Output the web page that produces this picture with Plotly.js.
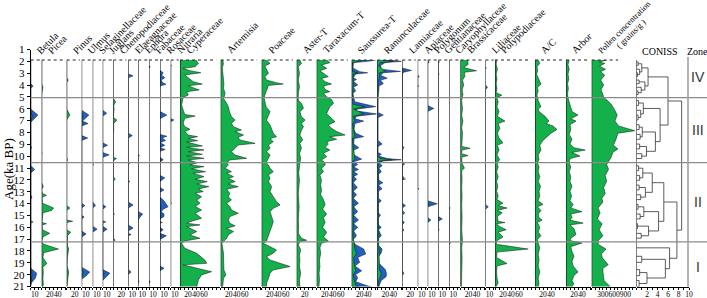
<!DOCTYPE html>
<html><head><meta charset="utf-8">
<script src="https://cdn.plot.ly/plotly-3.0.1.min.js"></script>
<style>html,body{margin:0;padding:0;background:#fff}#chart{width:707px;height:298px}</style>
</head><body><div id="chart"></div>
<script>
// ---------------- DATA ([age ka BP, value]) ----------------
const betulaG = [[6.2,0],[6.6,4],[6.9,0],[9.0,0],[9.2,2],[9.4,0],[15.25,0],[15.35,6],[15.45,0],[19.4,0],[19.7,3],[20.1,2],[20.5,0]];
const betulaB = [[3.9,0],[4.1,6],[4.3,0],[6.0,0],[6.5,18],[6.9,5],[7.1,0],[10.7,0],[11.0,10],[11.3,0],[13.1,0],[13.3,3],[13.5,0],[19.2,0],[19.6,15],[20.0,12],[20.4,2],[20.6,0]];
const piceaG = [[1.94,0],[3.9,0],[4.2,3],[4.5,2],[4.8,0],[9.5,0],[9.6,1],[9.8,0],[12.1,0],[12.4,4],[12.7,0],[13.0,2],[13.15,12],[13.3,1],[13.8,2],[14.2,30],[14.4,25],[14.6,3],[15.0,2],[15.4,1],[15.5,12],[15.6,1],[16.0,2],[16.3,20],[16.6,3],[17.0,0],[17.2,5],[17.6,42],[17.9,5],[18.3,3],[18.8,13],[19.1,3],[19.5,4],[20.0,3],[20.5,4],[21,2]];
const pinusG = [[1.94,0],[3.4,0],[3.6,4],[3.8,0],[6.0,0],[6.5,8],[6.9,0],[10,0],[10.2,2],[10.4,0],[14.0,0],[14.2,8],[14.4,0],[15.2,0],[15.3,15],[15.4,0],[16.0,0],[16.2,10],[16.5,2],[17.3,2],[17.6,5],[18.2,2],[19.0,1],[19.5,5],[20,3],[20.5,1],[21,0]];
const ulmusG = [[6.3,0],[6.5,3],[6.8,0],[7.1,0],[7.2,3],[7.4,0],[19.3,0],[19.5,4],[19.9,0]];
const ulmusB = [[6.1,0],[6.5,18],[6.8,8],[7.0,2],[7.2,16],[7.4,0],[8.2,0],[8.4,15],[8.6,0],[13.8,0],[14.0,8],[14.2,0],[14.8,0],[14.95,6],[15.1,0],[16.1,0],[16.35,11],[16.6,0],[19.1,0],[19.5,20],[19.8,12],[20.1,0]];
const selagG = [[10.5,0],[10.6,2],[10.7,0]];
const selagB = [[13.7,0],[14.0,7],[14.2,0],[15.7,0],[15.95,11],[16.2,0]];
const juglansG = [[15.25,0],[15.35,8],[15.45,0],[19.5,0],[19.6,3],[19.8,0]];
const juglansB = [[6.1,0],[6.35,10],[6.6,0],[8.8,0],[9.0,12],[9.2,0],[9.6,0],[9.8,16],[10.0,0],[13.9,0],[14.1,8],[14.3,0],[15.7,0],[15.95,11],[16.2,0],[19.3,0],[19.6,18],[20.0,5],[20.2,0]];
const chenoG = [[5.1,0],[5.4,6],[5.7,1],[6.0,2],[6.4,1],[6.7,0],[6.9,9],[7.2,1],[7.8,1],[8.0,0],[10.0,0],[10.1,8],[10.3,0],[11.6,0],[11.8,5],[12.0,0],[14.6,0],[14.7,3],[14.8,0],[16.7,0],[16.85,5],[17.0,0]];
const elaeagG = [[10.4,0],[10.5,3],[10.6,0]];
const elaeagB = [[3.1,0],[3.25,12],[3.4,0],[8.0,0],[8.2,10],[8.4,0],[11.9,0],[12.0,4],[12.1,0],[13.7,0],[13.95,12],[14.2,0],[15.6,0],[15.85,12],[16.1,0],[16.3,0],[16.4,7],[16.5,0],[19.3,0],[19.5,7],[19.7,0]];
const ephedraG = [[9.75,0],[9.85,3],[9.95,0],[20.2,0],[20.3,2],[20.4,0]];
const ephedraB = [[14.5,0],[14.7,11],[15.0,3],[15.2,0]];
const fabaceaeG = [[20.2,0],[20.3,3],[20.45,0]];
const fabaceaeB = [[2.4,0],[2.5,3],[2.6,0]];
const rosaceaeG = [[14.0,0],[14.1,3],[14.2,0],[15.35,0],[15.4,6],[15.45,0],[16.4,0],[16.5,3],[16.6,0]];
const rosaceaeB = [[2.8,0],[3.0,8],[3.2,4],[3.4,12],[3.6,3],[3.8,6],[3.95,15],[4.1,0],[6.2,0],[6.5,17],[6.8,0],[8.1,0],[8.25,17],[8.4,5],[8.6,14],[8.8,0],[9.0,12],[9.2,0],[9.35,13],[9.5,0],[10.0,0],[10.2,8],[10.4,0],[11.5,0],[11.7,12],[11.9,5],[12.0,0],[12.5,0],[12.7,10],[12.9,0],[13.3,0],[13.6,10],[13.9,16],[14.1,20],[14.3,8],[14.5,3],[14.7,10],[14.9,10],[15.1,0],[15.8,0],[16.0,8],[16.2,0],[16.3,0],[16.5,16],[16.8,0],[19.0,0],[19.2,10],[19.4,0]];
const nitrariaG = [[2.3,0],[2.4,2],[2.5,0],[13.7,0],[13.8,2],[13.9,0]];
const nitrariaB = [[6.8,0],[6.9,8],[7.05,0]];
const cyperaceae = [[1.94,40],[2.22,46],[2.49,38],[2.63,8],[2.82,25],[2.99,52],[3.18,12],[3.54,25],[3.73,33],[3.93,56],[4.07,21],[4.23,33],[4.42,48],[4.56,17],[4.84,21],[5.03,8],[5.25,7],[5.67,4],[6.08,8],[6.45,12],[6.58,38],[6.77,12],[7.18,8],[7.46,12],[7.68,25],[7.87,12],[8.15,21],[8.29,44],[8.43,21],[8.62,44],[8.73,17],[9.06,56],[9.17,17],[9.39,60],[9.53,21],[9.75,56],[9.89,17],[10.08,60],[10.22,21],[10.44,44],[10.63,25],[10.77,60],[10.94,29],[11.19,64],[11.32,33],[11.6,60],[11.82,38],[12.01,68],[12.21,42],[12.43,72],[12.62,46],[12.84,58],[12.98,38],[13.26,54],[13.53,42],[13.81,50],[14.08,38],[14.36,54],[14.64,38],[15.05,54],[15.33,25],[15.46,17],[15.6,50],[15.74,17],[16.15,42],[16.43,25],[16.71,50],[16.93,12],[17.12,4],[17.53,12],[17.95,42],[18.5,62],[18.78,67],[18.91,8],[19.05,25],[19.47,79],[19.74,54],[20.16,46],[20.71,42],[21,42]];
const artemisia = [[1.94,5],[2.22,7],[2.6,4],[3.04,5],[3.5,6],[3.87,8],[4.3,7],[4.7,11],[4.95,9],[5.11,7],[5.53,15],[5.8,19],[6.22,22],[6.63,27],[6.91,36],[7.18,27],[7.46,32],[7.74,52],[7.87,36],[8.15,57],[8.34,44],[8.56,48],[8.84,86],[8.98,44],[9.25,36],[9.53,27],[9.81,36],[10.08,65],[10.22,23],[10.44,15],[10.63,19],[10.91,11],[11.19,27],[11.32,15],[11.6,32],[11.74,19],[12.01,36],[12.21,19],[12.43,44],[12.65,15],[12.98,23],[13.26,19],[13.53,27],[13.81,15],[14.08,23],[14.36,27],[14.64,44],[14.91,23],[15.19,19],[15.46,23],[15.68,36],[15.88,15],[16.15,32],[16.43,19],[16.71,15],[16.93,7],[17.12,3],[17.95,7],[18.78,7],[19.33,8],[19.74,13],[20.02,7],[20.71,5],[21,5]];
const poaceae = [[1.94,12],[2.22,21],[2.44,8],[2.77,12],[3.04,17],[3.32,8],[3.6,12],[3.82,37],[3.93,54],[4.04,17],[4.42,12],[4.84,8],[5.06,6],[5.39,8],[5.8,11],[6.22,21],[6.49,17],[6.91,12],[7.32,21],[7.74,25],[8.01,29],[8.29,37],[8.45,21],[8.7,29],[8.98,17],[9.25,21],[9.53,12],[9.81,21],[10.08,17],[10.44,11],[10.63,17],[10.91,21],[11.19,29],[11.46,17],[11.74,21],[12.01,17],[12.43,25],[12.84,21],[13.26,29],[13.67,37],[13.95,46],[14.22,29],[14.5,21],[14.91,25],[15.33,29],[15.74,25],[16.15,21],[16.57,17],[16.93,12],[17.12,4],[17.4,21],[17.67,37],[17.95,29],[18.23,12],[18.5,21],[18.78,46],[19.05,71],[19.33,29],[19.6,21],[20.02,17],[20.43,12],[20.85,12],[21,12]];
const asterT = [[1.94,8],[2.22,12],[2.49,4],[3.04,7],[3.6,4],[4.15,7],[4.7,4],[5.06,4],[5.25,4],[5.53,12],[5.94,17],[6.22,8],[6.63,12],[6.91,21],[7.18,12],[7.46,17],[7.74,12],[8.15,8],[8.56,15],[8.84,8],[9.25,12],[9.67,7],[10.08,10],[10.44,8],[10.77,7],[11.32,5],[11.9,7],[12.43,5],[12.98,4],[13.53,5],[14.08,6],[14.64,5],[15.19,4],[15.74,5],[16.3,4],[16.71,12],[16.87,25],[16.97,8],[17.25,4],[17.67,10],[18.09,7],[18.5,8],[19.05,7],[19.6,10],[20.16,7],[20.71,8],[21,8]];
const taraxacumT = [[1.94,25],[2.16,33],[2.35,12],[2.63,25],[2.82,8],[3.04,17],[3.32,29],[3.46,12],[3.73,21],[3.93,37],[4.09,17],[4.37,21],[4.56,33],[4.7,17],[4.98,25],[5.2,37],[5.53,42],[5.8,33],[6.08,29],[6.36,25],[6.77,37],[7.05,46],[7.32,29],[7.6,37],[7.87,50],[8.15,71],[8.29,33],[8.51,50],[8.7,25],[8.9,29],[9.17,21],[9.39,33],[9.67,17],[9.94,25],[10.22,12],[10.44,21],[10.63,21],[10.91,12],[11.19,17],[11.46,8],[11.9,12],[12.3,10],[12.7,12],[13.1,10],[13.5,17],[13.9,21],[14.3,15],[14.7,25],[15.0,17],[15.4,21],[15.8,15],[16.2,25],[16.6,17],[16.93,29],[17.12,12],[17.5,8],[17.95,10],[18.5,7],[19.05,8],[19.6,6],[20.16,7],[20.71,5],[21,5]];
const saussureaG = [[1.94,28],[2.05,10],[2.15,2],[2.9,2],[3.0,15],[3.1,3],[4.0,4],[5.06,2],[5.6,3],[5.8,33],[6.0,5],[6.4,30],[6.6,4],[7.0,8],[7.2,2],[8.29,8],[8.45,2],[9.2,4],[10.15,8],[10.35,2],[11.0,4],[12.0,2],[13.8,4],[14.5,3],[15.2,4],[16.5,3],[17.6,8],[18.0,12],[18.3,5],[18.7,6],[19.4,10],[19.7,4],[20.0,5],[20.6,10],[20.85,25],[21,12]];
const saussureaB = [[1.94,60],[2.05,40],[2.15,5],[2.6,3],[2.9,20],[3.0,40],[3.1,10],[3.4,4],[3.55,12],[3.7,4],[4.0,15],[4.2,4],[4.5,10],[4.7,3],[5.06,5],[5.4,8],[5.8,60],[6.0,15],[6.15,10],[6.4,62],[6.6,12],[6.8,8],[7.0,30],[7.2,8],[7.7,6],[8.0,10],[8.29,30],[8.45,6],[8.9,5],[9.2,18],[9.4,5],[9.8,6],[10.15,25],[10.35,6],[10.6,15],[10.8,5],[11.0,17],[11.2,5],[11.4,15],[11.6,5],[11.8,12],[12.1,4],[12.5,14],[12.8,4],[13.1,12],[13.4,4],[13.8,17],[14.1,5],[14.5,15],[14.8,5],[15.2,17],[15.5,5],[15.8,15],[16.1,5],[16.5,12],[16.8,4],[17.2,8],[17.6,30],[18.0,35],[18.3,15],[18.7,20],[19.0,8],[19.4,25],[19.7,10],[20.0,15],[20.3,10],[20.6,35],[20.85,60],[21,30]];
const ranunG = [[1.94,10],[2.05,40],[2.15,8],[2.4,3],[2.88,20],[3.0,5],[3.45,5],[3.6,2],[4.4,1],[9.9,0],[10.1,8],[10.2,36],[10.3,5],[10.45,2],[12.1,3],[12.3,1],[19.3,5],[19.6,10],[19.9,8],[20.2,3],[21,2]];
const ranunB = [[1.94,30],[2.05,60],[2.15,20],[2.4,8],[2.7,10],[2.88,58],[3.0,15],[3.2,8],[3.45,25],[3.6,8],[3.9,15],[4.1,4],[4.4,4],[5.06,2],[6.3,2],[6.5,15],[6.7,2],[8.6,2],[8.9,12],[9.1,2],[9.6,2],[9.75,10],[9.9,3],[10.1,25],[10.2,60],[10.3,15],[10.45,5],[10.7,12],[10.9,4],[11.2,10],[11.4,3],[11.9,4],[12.1,14],[12.3,3],[12.6,12],[12.8,3],[13.4,3],[13.6,10],[13.8,3],[14.6,3],[14.8,8],[15.0,3],[15.6,3],[15.8,10],[16.0,3],[16.5,10],[16.7,3],[17.3,3],[17.6,12],[17.9,10],[18.2,4],[18.8,5],[19.3,20],[19.6,23],[19.9,22],[20.2,10],[20.6,5],[21,5]];
const lamiaceaeG = [[2.7,0],[2.8,5],[2.95,0],[11.75,0],[11.8,8],[11.85,0]];
const lamiaceaeB = [[2.6,0],[2.8,23],[2.95,3],[3.1,0],[9.0,0],[9.2,4],[9.4,0],[10.4,0],[10.55,6],[10.7,0],[11.5,0],[11.7,4],[11.9,0],[13.8,0],[14.0,8],[14.2,0],[14.4,0],[14.6,6],[14.8,0],[15.2,0],[15.4,5],[15.6,0],[15.9,0],[16.0,4],[16.2,0],[19.4,0],[19.6,4],[19.8,0]];
const apiaceaeG = [[4.0,0],[4.1,2],[4.2,0]];
const apiaceaeB = [[3.2,0],[3.3,4],[3.4,0],[12.5,0],[12.6,3],[12.7,0]];
const polygonumG = [[13.8,0],[13.9,4],[14.0,0]];
const polygonumB = [[2.0,0],[2.1,4],[2.2,0],[5.7,0],[5.95,15],[6.2,0],[13.6,0],[13.85,24],[14.1,0],[15.0,0],[15.2,8],[15.4,0]];
const gentianG = [[2.0,0],[2.1,3],[2.2,0],[3.0,0],[3.1,2],[3.2,0],[15.9,0],[16.0,2],[16.1,0]];
const gentianB = [[14.9,0],[15.1,10],[15.3,0]];
const caryoG = [[14.1,0],[14.2,2],[14.3,0],[17.0,0],[17.1,3],[17.2,0]];
const brassicaceae = [[1.94,18],[2.3,19],[2.55,8],[2.83,40],[2.95,10],[3.3,11],[3.6,5],[4.0,8],[4.4,4],[4.8,6],[5.3,3],[6.0,5],[6.5,3],[7.0,6],[7.5,3],[8.0,5],[8.6,4],[9.1,3],[9.25,24],[9.4,4],[9.7,3],[9.85,19],[10.0,3],[10.5,4],[10.9,10],[11.1,3],[11.8,4],[12.5,3],[13.2,4],[14.0,3],[15.0,4],[16.0,3],[16.9,5],[17.5,3],[18.3,4],[19.0,3],[19.8,3],[20.5,2],[21,2]];
const liliaceaeG = [[2.5,0],[2.6,2],[2.7,0]];
const liliaceaeB = [[4.0,0],[4.2,5],[4.4,0],[13.9,0],[14.1,7],[14.3,0]];
const polypodiaceae = [[1.94,4],[2.3,3],[2.7,6],[3.1,3],[3.5,5],[3.9,3],[4.3,5],[4.65,3],[4.85,17],[5.06,5],[5.4,8],[5.8,5],[6.2,10],[6.6,6],[7.0,25],[7.2,8],[7.6,12],[8.0,6],[8.4,10],[8.8,20],[9.0,6],[9.4,10],[9.8,5],[10.2,12],[10.44,5],[10.8,8],[11.2,4],[11.6,8],[12.0,4],[12.4,7],[12.8,4],[13.2,8],[13.5,5],[13.8,20],[14.0,8],[14.2,30],[14.4,6],[14.6,18],[14.9,6],[15.3,8],[15.4,25],[15.5,5],[15.7,10],[16.0,28],[16.2,8],[16.6,20],[16.9,5],[17.2,3],[17.6,83],[17.85,5],[18.3,4],[18.8,30],[19.0,5],[19.5,4],[20.0,5],[20.4,8],[20.7,3],[21,2]];
const acRatio = [[1.94,8],[2.22,12],[2.5,5],[2.8,7],[3.1,4],[3.4,8],[3.7,12],[3.95,15],[4.2,6],[4.5,8],[4.8,5],[5.06,6],[5.3,8],[5.8,15],[6.0,8],[6.2,10],[6.6,25],[7.0,35],[7.2,28],[7.4,45],[7.7,55],[8.0,40],[8.3,30],[8.6,20],[9.0,12],[9.4,15],[9.8,8],[10.2,10],[10.44,6],[10.8,10],[11.2,8],[11.6,12],[12.0,8],[12.4,14],[12.8,10],[13.2,12],[13.6,8],[13.9,20],[14.1,6],[14.4,15],[14.7,8],[15.0,10],[15.2,18],[15.4,6],[15.8,12],[16.2,8],[16.5,15],[16.8,6],[17.1,8],[17.5,12],[18.0,8],[18.5,10],[19.0,8],[19.5,12],[20.0,8],[20.5,10],[21,6]];
const arbor = [[1.94,8],[2.3,5],[2.7,8],[3.1,5],[3.5,7],[3.9,4],[4.3,6],[4.7,4],[5.06,5],[5.4,8],[5.8,12],[6.2,15],[6.5,30],[6.8,12],[7.0,25],[7.3,10],[7.7,12],[8.1,8],[8.5,15],[8.9,10],[9.2,20],[9.4,48],[9.6,15],[9.9,35],[10.1,10],[10.44,8],[10.8,12],[11.2,8],[11.6,12],[12.0,10],[12.4,15],[12.8,10],[13.2,14],[13.6,10],[13.9,18],[14.2,12],[14.5,40],[14.7,12],[15.0,15],[15.2,10],[15.45,43],[15.6,10],[15.9,20],[16.4,25],[16.7,12],[16.9,10],[17.1,40],[17.4,12],[17.8,15],[18.2,20],[18.6,15],[19.0,18],[19.5,30],[19.8,20],[20.2,15],[20.5,20],[20.8,12],[21,10]];
const pollenConc = [[1.94,400],[2.1,210],[2.22,350],[2.45,210],[2.7,370],[2.9,240],[3.2,350],[3.6,240],[4.0,320],[4.4,250],[4.8,300],[5.06,330],[5.3,420],[5.6,520],[6.0,600],[6.5,680],[7.0,620],[7.4,720],[7.8,1150],[8.0,700],[8.5,650],[9.0,580],[9.3,700],[9.6,560],[10.0,520],[10.3,450],[10.6,400],[11.0,450],[11.5,360],[12.0,400],[12.5,320],[13.0,360],[13.4,270],[13.7,300],[14.2,170],[14.6,225],[15.1,150],[15.5,280],[16.0,200],[16.5,300],[16.9,180],[17.2,170],[17.6,380],[18.0,260],[18.3,280],[18.9,440],[19.2,300],[19.5,300],[20.2,330],[20.7,490],[21,450]];

// CONISS clusters: [height, left, right], leaves = sample ages
const treeIV = [2.2, [1.0,[0.3,2.1,2.4],[0.6,2.7,[0.2,3.0,3.3]]], [1.6,[0.5,3.6,3.9],[0.9,4.2,[0.3,4.5,4.8]]]];
const treeIII = [4.5, [1.3,[0.4,5.3,5.7],[0.8,6.1,[0.3,6.5,6.9]]], [3.6,[1.1,[0.5,7.3,7.7],[0.7,8.1,8.5]],[1.9,[0.6,8.9,9.3],[1.0,9.7,10.1]]]];
const treeII = [5.2, [3.0,[1.2,[0.4,10.7,11.1],[0.6,11.5,11.9]],[1.7,[0.5,12.3,12.7],[0.8,13.1,13.5]]], [4.2,[1.4,[0.3,13.9,14.3],[0.7,14.7,15.1]],[2.3,[0.2,15.5,15.9],[0.9,16.3,16.7]]]];
const treeI = [6.3, 17.5, [5.5, [1.0,18.2,18.7], [2.0,[0.6,19.3,19.8],[0.5,20.2,20.7]]]];
const rootHeights = [6.0, 7.7, 8.6];

const zoneBounds = [5.06, 10.44, 17.0];
const zoneNames = ['IV','III','II','I'];
const zoneLabelAges = [3.35, 7.74, 13.7, 19.08];
const ageTicks = [1,2,3,4,5,6,7,8,9,10,11,12,13,14,15,16,17,18,19,20,21];

// ---------------- LAYOUT CONFIG (pixel geometry) ----------------
const W = 707, H = 298;
const PCT = 0.4, CONC = 0.0375;
const yTopPx = 60, yBotPx = 286.5, yAge1Px = 49.5;
const GREEN = '#13b04b', BLUE = '#2360c4';

const panels = [
 {n:'Betula', x0:30.7, w:10.5, t:[10], g:betulaG, b:betulaB},
 {n:'Picea', x0:41.7, w:24.5, t:[20,40], g:piceaG},
 {n:'Pinus', x0:66.7, w:14.5, t:[20], g:pinusG},
 {n:'Ulmus', x0:81.7, w:10.5, t:[10], g:ulmusG, b:ulmusB},
 {n:'Selaginellaceae', x0:92.7, w:9.5, t:[10], g:selagG, b:selagB},
 {n:'Juglans', x0:102.7, w:10.1, t:[10], g:juglansG, b:juglansB},
 {n:'Chenopodiaceae', x0:113.3, w:14.5, t:[20], g:chenoG},
 {n:'Elaeagnaceae', x0:128.3, w:9.5, t:[10], g:elaeagG, b:elaeagB},
 {n:'Ephdra', x0:138.3, w:10.2, t:[10], g:ephedraG, b:ephedraB},
 {n:'Fabaceae', x0:149, w:10.5, t:[10], g:fabaceaeG, b:fabaceaeB},
 {n:'Rosaceae', x0:160, w:10.2, t:[10], g:rosaceaeG, b:rosaceaeB},
 {n:'Nitraria', x0:170.7, w:8.8, t:[10], g:nitrariaG, b:nitrariaB},
 {n:'Cyperaceae', x0:180, w:40.2, t:[20,40,60], g:cyperaceae},
 {n:'Artemisia', x0:220.7, w:40.5, t:[20,40,60], g:artemisia},
 {n:'Poaceae', x0:261.7, w:34.5, t:[20,40,60], g:poaceae},
 {n:'Aster-T', x0:296.7, w:19.5, t:[20], g:asterT},
 {n:'Taraxacum-T', x0:316.7, w:34.5, t:[20,40,60], g:taraxacumT},
 {n:'Saussurea-T', x0:351.7, w:25.1, t:[20,40], g:saussureaG, b:saussureaB},
 {n:'Ranunculaceae', x0:377.3, w:24.5, t:[20,40], g:ranunG, b:ranunB},
 {n:'Lamiaceae', x0:402.3, w:14.9, t:[20], g:lamiaceaeG, b:lamiaceaeB},
 {n:'Apiaceae', x0:417.7, w:9.5, t:[10], g:apiaceaeG, b:apiaceaeB},
 {n:'Polygonum', x0:427.7, w:10.1, t:[10], g:polygonumG, b:polygonumB},
 {n:'Gentianaceae', x0:438.3, w:10.5, t:[10], g:gentianG, b:gentianB},
 {n:'Caryophyllaceae', x0:449.3, w:10.7, t:[10], g:caryoG},
 {n:'Brassicaceae', x0:460.5, w:24.5, t:[20,40], g:brassicaceae},
 {n:'Liliaceae', x0:485.5, w:9, t:[10], g:liliaceaeG, b:liliaceaeB},
 {n:'Polypodiaceae', x0:495, w:39.5, t:[20,40,60], g:polypodiaceae},
 {n:'A/C', x0:535, w:30.5, t:[20,40], g:acRatio},
 {n:'Arbor', x0:566, w:25.2, t:[20,40], g:arbor},
 {n:'Pollen concentration', x0:591.7, w:44, t:[300,600,900], g:pollenConc, conc:true, fs:8.5}
];
const extraLabels = [{text:'( grains/g )', xPx:611, yPx:53, fs:8.5}];

const px2x = v => v / W;
const px2y = v => 1 - v / H;
const serif = 'Liberation Serif, Times New Roman, serif';

const traces = [];
const shapes = [];
const annotations = [];
const layout = {
  width: W, height: H, margin: {l:0, r:0, t:0, b:0},
  paper_bgcolor: '#fff', plot_bgcolor: 'rgba(0,0,0,0)', showlegend: false,
  font: {family: serif, color: '#000'}
};

// panel y axis (y2)
const ageTopY2 = 1 + (yTopPx - 48.7) / 12.07;
const ageBotY2 = 1 + (yBotPx - 48.7) / 12.07;
layout.yaxis2 = {domain: [px2y(yBotPx), px2y(yTopPx)], range: [ageBotY2, ageTopY2], visible: false, anchor: 'x', fixedrange: true};

function axisCfg(domain, range, tickvals, minorDtick) {
  return {
    domain, range, anchor: 'y2', showline: true, linecolor: '#000', linewidth: 1,
    ticks: '', tickmode: 'array', tickvals, ticktext: tickvals.map(String), tickangle: 0,
    tickfont: {family: serif, size: 7.5, color: '#000'},
    showgrid: false, zeroline: false, fixedrange: true,
    minor: {tickmode: 'linear', tick0: 0, dtick: minorDtick, ticks: 'outside', ticklen: 2, tickcolor: '#000', tickwidth: 1, showgrid: false}
  };
}

function area(pts, xid, color) {
  return {type: 'scatter', mode: 'lines', x: pts.map(d => d[1]), y: pts.map(d => d[0]),
    xaxis: xid, yaxis: 'y2', fill: 'tozerox', fillcolor: color,
    line: {color: '#111', width: 0.5}, hoverinfo: 'skip'};
}

panels.forEach((p, i) => {
  const k = i + 1;
  const xid = k === 1 ? 'x' : 'x' + k;
  const key = k === 1 ? 'xaxis' : 'xaxis' + k;
  const scale = p.conc ? CONC : PCT;
  const rmax = p.w / scale;
  layout[key] = axisCfg([px2x(p.x0), px2x(p.x0 + p.w)], [0, rmax], p.t, p.conc ? 100 : 10);
  if (p.b) traces.push(area(p.b, xid, BLUE));
  if (p.g) traces.push(area(p.g, xid, GREEN));
  shapes.push({type: 'line', xref: xid, yref: 'paper', x0: 0, x1: 0, y0: px2y(yBotPx), y1: px2y(yTopPx), line: {color: '#000', width: 1}});
  shapes.push({type: 'line', xref: xid, yref: 'paper', x0: 0, x1: rmax * (p.conc ? 0.6 : 0.9), y0: px2y(yTopPx), y1: px2y(yTopPx), line: {color: '#222', width: 1, dash: 'dot'}});
  annotations.push({text: p.n, xref: 'paper', yref: 'paper', x: px2x(p.x0 + 1), y: px2y(58.5),
    xanchor: 'left', yanchor: 'bottom', textangle: -45, showarrow: false,
    font: {family: serif, size: p.fs || 10, color: '#000'}});
});
extraLabels.forEach(e => annotations.push({text: e.text, xref: 'paper', yref: 'paper', x: px2x(e.xPx), y: px2y(e.yPx),
  xanchor: 'left', yanchor: 'bottom', textangle: -45, showarrow: false, font: {family: serif, size: e.fs, color: '#000'}}));

// CONISS axis
const cK = panels.length + 1;
const cX = 'x' + cK;
layout['xaxis' + cK] = axisCfg([px2x(636.5), px2x(689)], [0, 10], [2,4,6,8,10], 1);
shapes.push({type: 'line', xref: cX, yref: 'paper', x0: 0, x1: 0, y0: px2y(yBotPx), y1: px2y(yTopPx), line: {color: '#000', width: 1}});

// dendrogram from tree structure
const dx = [], dy = [];
function seg(x0, y0, x1, y1) { dx.push(x0, x1, null); dy.push(y0, y1, null); }
function walk(node) {
  if (typeof node === 'number') return {y: node, h: 0};
  const a = walk(node[1]), b = walk(node[2]);
  const h = node[0];
  seg(a.h, a.y, h, a.y);
  seg(b.h, b.y, h, b.y);
  seg(h, a.y, h, b.y);
  return {y: (a.y + b.y) / 2, h};
}
walk([rootHeights[2], [rootHeights[0], treeIV, treeIII], [rootHeights[1], treeII, treeI]]);
traces.push({type: 'scatter', mode: 'lines', x: dx, y: dy, xaxis: cX, yaxis: 'y2',
  line: {color: '#333', width: 0.8}, hoverinfo: 'skip', connectgaps: false});

// main age axis
const mK = cK + 1;
layout['xaxis' + mK] = {domain: [px2x(30.7), px2x(700)], range: [0, 1], visible: false, anchor: 'y', fixedrange: true};
layout.yaxis = {domain: [px2y(yBotPx), px2y(yAge1Px)], range: [21, 1], anchor: 'x' + mK,
  tickmode: 'array', tickvals: ageTicks, ticktext: ageTicks.map(String),
  ticks: 'outside', ticklen: 3, tickcolor: '#000', showline: true, linecolor: '#000', linewidth: 1,
  tickfont: {family: serif, size: 11, color: '#000'}, showgrid: false, zeroline: false, fixedrange: true};
traces.push({type: 'scatter', mode: 'markers', x: [null], y: [null], xaxis: 'x' + mK, yaxis: 'y', hoverinfo: 'skip'});

// zone lines
zoneBounds.forEach(a => shapes.push({type: 'line', xref: 'paper', yref: 'y2', x0: px2x(30.7), x1: 1, y0: a, y1: a,
  line: {color: '#8a8a8a', width: 1.2}}));
shapes.push({type: 'line', xref: 'paper', yref: 'paper', x0: px2x(688), x1: px2x(688), y0: px2y(yBotPx), y1: px2y(57),
  line: {color: '#9a9a9a', width: 1.5}});

zoneNames.forEach((z, i) => annotations.push({text: z, xref: 'paper', yref: 'y2', x: px2x(697.5), y: zoneLabelAges[i],
  showarrow: false, xanchor: 'center', yanchor: 'middle', font: {family: 'Liberation Sans, Arial, sans-serif', size: 14, color: '#333'}}));

annotations.push({text: 'CONISS', xref: 'paper', yref: 'paper', x: px2x(660), y: px2y(52), showarrow: false,
  xanchor: 'center', yanchor: 'middle', font: {family: serif, size: 10, color: '#000'}});
annotations.push({text: 'Zone', xref: 'paper', yref: 'paper', x: px2x(697), y: px2y(52), showarrow: false,
  xanchor: 'center', yanchor: 'middle', font: {family: serif, size: 10, color: '#000'}});
annotations.push({text: 'Age(ka BP)', xref: 'paper', yref: 'paper', x: px2x(8), y: px2y(169), showarrow: false,
  textangle: -90, xanchor: 'center', yanchor: 'middle', font: {family: serif, size: 13, color: '#000'}});

layout.shapes = shapes;
layout.annotations = annotations;

Plotly.newPlot('chart', traces, layout, {staticPlot: true, displayModeBar: false});
</script></body></html>
